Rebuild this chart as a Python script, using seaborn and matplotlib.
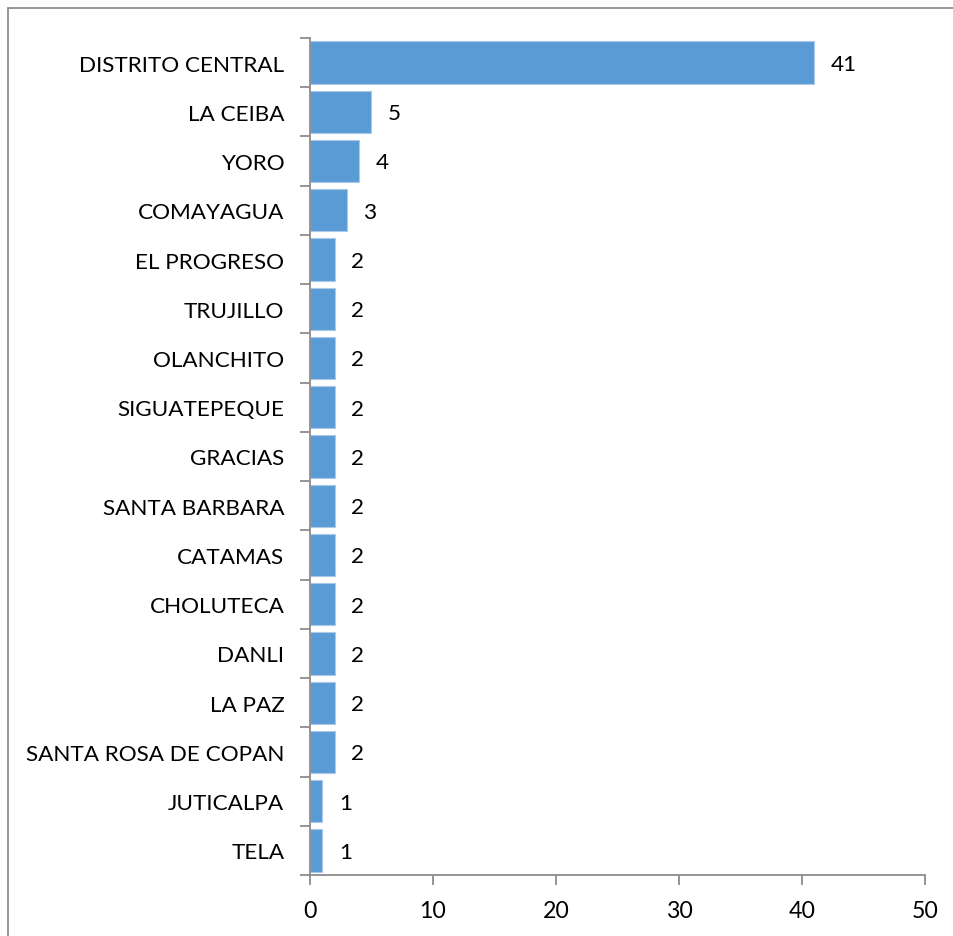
import numpy as np
import pandas as pd
import seaborn as sns
import matplotlib.pyplot as plt
from matplotlib.patches import Rectangle

cities = ["DISTRITO CENTRAL", "LA CEIBA", "YORO", "COMAYAGUA", "EL PROGRESO",
          "TRUJILLO", "OLANCHITO", "SIGUATEPEQUE", "GRACIAS", "SANTA BARBARA",
          "CATAMAS", "CHOLUTECA", "DANLI", "LA PAZ", "SANTA ROSA DE COPAN",
          "JUTICALPA", "TELA"]
counts = [41, 5, 4, 3, 2, 2, 2, 2, 2, 2, 2, 2, 2, 2, 2, 1, 1]
x_ticks = [0, 10, 20, 30, 40, 50]

sns.set_theme(style="white")
plt.rcParams["font.family"] = ["Lato", "DejaVu Sans"]

df = pd.DataFrame({"city": cities, "count": counts})

W, H = 954, 937
fig = plt.figure(figsize=(W / 100, H / 100), dpi=100)
ax = fig.add_axes([310 / W, 1 - 876 / H, (925 - 310) / W, (876 - 39) / H])

bar_color = "#5B9BD5"
sns.barplot(data=df, y="city", x="count", orient="h", color=bar_color,
            width=0.86, saturation=1, edgecolor="#A9C8EA", linewidth=0.8, ax=ax)

fs = 16.2
ax.set_xlim(0, 50)
ax.set_ylim(len(cities) - 0.5, -0.5)
ax.set_xticks(x_ticks)
ax.set_xticklabels([str(t) for t in x_ticks], fontsize=fs + 0.5, color="#000000")
ax.set_yticks(range(len(cities)))
ax.set_yticklabels(cities, fontsize=fs, color="#000000")
ax.set_yticks(np.arange(-0.5, len(cities) + 0.5, 1), minor=True)
ax.set_xlabel("")
ax.set_ylabel("")

spine_color = "#8C8C8C"
for side in ["top", "right"]:
    ax.spines[side].set_visible(False)
for side in ["left", "bottom"]:
    ax.spines[side].set_color(spine_color)
    ax.spines[side].set_linewidth(1.3)

ax.tick_params(axis="y", which="major", length=0, pad=18.5)
ax.tick_params(axis="y", which="minor", length=7, width=1.3, color=spine_color, left=True)
ax.tick_params(axis="x", which="major", length=7, width=1.3, color=spine_color,
               bottom=True, pad=11)

for i, v in enumerate(counts):
    ax.annotate(str(v), xy=(v, i), xytext=(12, -1), textcoords="offset points",
                ha="left", va="center", fontsize=fs, color="#000000")

fig.patches.append(Rectangle((8 / W, -0.1), 1.2, 1 - 9 / H + 0.1,
                             transform=fig.transFigure, fill=False,
                             edgecolor="#8C8C8C", linewidth=1.3, zorder=0))

fig.savefig("out.png", dpi=100)
